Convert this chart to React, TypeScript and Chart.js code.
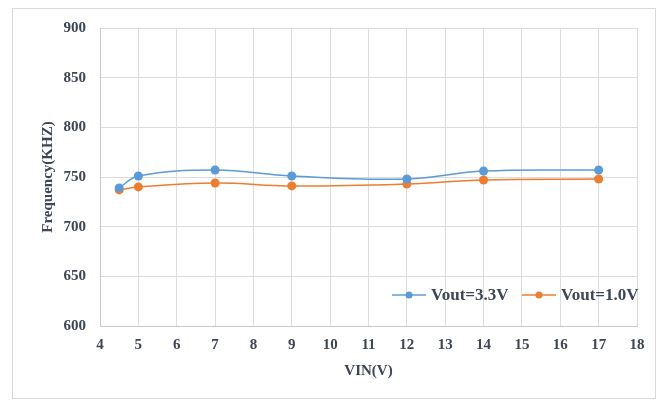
import React, { useEffect, useRef } from "react";
import { Chart, registerables } from "chart.js";

Chart.register(...registerables);

const vin: number[] = [4.5, 5, 7, 9, 12, 14, 17];
const vout33: number[] = [739, 751, 757, 751, 748, 756, 757];
const vout10: number[] = [737, 740, 744, 741, 743, 747, 748];
const seriesNames: string[] = ["Vout=3.3V", "Vout=1.0V"];
const seriesColors: string[] = ["#5B9BD5", "#ED7D31"];

const FONT = "'Liberation Serif', 'Times New Roman', serif";
const TEXT = "#3d4654";

const insideLegend = {
  id: "insideLegend",
  afterDraw(chart: any) {
    const { ctx, chartArea } = chart;
    const y = chartArea.bottom - 31;
    ctx.save();
    ctx.font = `bold 17px ${FONT}`;
    ctx.textBaseline = "middle";
    ctx.textAlign = "left";
    const starts = [chartArea.left + 292, chartArea.left + 422];
    chart.data.datasets.forEach((ds: any, i: number) => {
      const x0 = starts[i];
      ctx.strokeStyle = ds.borderColor;
      ctx.lineWidth = 1.5;
      ctx.beginPath();
      ctx.moveTo(x0, y);
      ctx.lineTo(x0 + 34, y);
      ctx.stroke();
      ctx.fillStyle = ds.backgroundColor;
      ctx.beginPath();
      ctx.arc(x0 + 17, y, 3.5, 0, Math.PI * 2);
      ctx.fill();
      ctx.fillStyle = TEXT;
      ctx.fillText(ds.label, x0 + 39, y + 1);
    });
    ctx.restore();
  },
};

export default function App() {
  const ref = useRef<HTMLCanvasElement | null>(null);
  useEffect(() => {
    document.body.style.margin = "0";
    const mk = (label: string, data: number[], color: string) => ({
      label,
      data: vin.map((x, i) => ({ x, y: data[i] })),
      borderColor: color,
      backgroundColor: color,
      borderWidth: 1.5,
      pointRadius: 4.5,
      pointHoverRadius: 4.5,
      pointBorderWidth: 0,
      tension: 0.4,
      fill: false,
    });
    const chart = new Chart(ref.current as HTMLCanvasElement, {
      type: "line",
      data: {
        datasets: [
          mk(seriesNames[0], vout33, seriesColors[0]),
          mk(seriesNames[1], vout10, seriesColors[1]),
        ],
      },
      options: {
        animation: false,
        responsive: false,
        layout: { padding: { top: 28, right: 31, bottom: 22, left: 39 } },
        plugins: { legend: { display: false }, tooltip: { enabled: false } },
        scales: {
          x: {
            type: "linear",
            min: 4,
            max: 18,
            ticks: {
              stepSize: 1,
              color: TEXT,
              font: { family: FONT, size: 15, weight: "bold" },
              padding: 10,
            },
            grid: { color: "#dcdcdc", drawTicks: false },
            border: { color: "#c8c8c8" },
            title: {
              display: true,
              text: "VIN(V)",
              color: TEXT,
              font: { family: FONT, size: 15, weight: "bold" },
              padding: { top: 2, bottom: 0 },
            },
            afterFit: (s: any) => {
              s.height = 54;
            },
          },
          y: {
            min: 600,
            max: 900,
            ticks: {
              stepSize: 50,
              color: TEXT,
              font: { family: FONT, size: 15, weight: "bold" },
              padding: 14,
            },
            grid: { color: "#dcdcdc", drawTicks: false },
            border: { color: "#c8c8c8" },
            title: {
              display: true,
              text: "Frequency(KHZ)",
              color: TEXT,
              font: { family: FONT, size: 15, weight: "bold" },
              padding: { top: 0, bottom: 0 },
            },
            afterFit: (s: any) => {
              s.width = 61;
            },
          },
        },
      },
      plugins: [insideLegend],
    } as any);
    return () => chart.destroy();
  }, []);
  return (
    <div style={{ position: "relative", width: 668, height: 402 }}>
      <div
        style={{
          position: "absolute",
          left: 12,
          top: 8,
          width: 644,
          height: 391,
          border: "1px solid #d9d9d9",
          boxSizing: "border-box",
        }}
      />
      <canvas
        ref={ref}
        width={668}
        height={402}
        style={{ position: "absolute", left: 0, top: 0, width: 668, height: 402 }}
      />
    </div>
  );
}
